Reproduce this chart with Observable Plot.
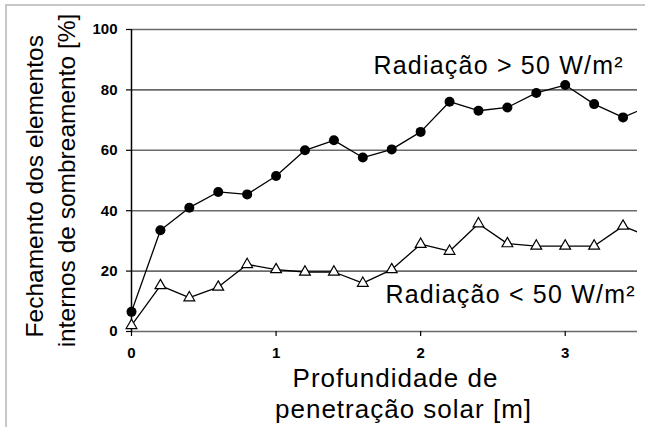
<!DOCTYPE html>
<html>
<head>
<meta charset="utf-8">
<script src="https://cdn.jsdelivr.net/npm/d3@7"></script>
<script src="https://cdn.jsdelivr.net/npm/@observablehq/plot@0.6"></script>
<style>
  html, body { margin: 0; padding: 0; background: #fff; }
  #wrap { position: relative; width: 645px; height: 427px; overflow: hidden; }
  #chart { position: absolute; left: 0; top: 0; }
  #frame { position: absolute; left: 5px; top: 4px; width: 660px; height: 440px;
           border-top: 2px solid #c8c8c8; border-left: 2px solid #c8c8c8; pointer-events: none; }
</style>
</head>
<body>
<div id="wrap"><div id="chart"></div><div id="frame"></div></div>
<script>
// Depth of solar penetration [m]
const depth = [0, 0.2, 0.4, 0.6, 0.8, 1.0, 1.2, 1.4, 1.6, 1.8, 2.0, 2.2, 2.4, 2.6, 2.8, 3.0, 3.2, 3.4, 3.6];
// Closing of internal shading elements [%], radiation > 50 W/m²
const radHigh = [6.5, 33.5, 41, 46.2, 45.4, 51.5, 60, 63.3, 57.6, 60.3, 66.1, 76.1, 73.1, 74.2, 79, 81.6, 75.3, 70.9, 75];
// Closing of internal shading elements [%], radiation < 50 W/m²
const radLow = [2, 15.2, 11.2, 14.7, 22.2, 20.5, 19.7, 19.7, 16, 20.5, 28.9, 26.6, 35.7, 29.1, 28.3, 28.3, 28.3, 34.9, 31];

const xTicks = [0, 1, 2, 3];
const yTicks = [0, 20, 40, 60, 80, 100];
const xDomain = [0, 3.5];
const yDomain = [0, 100];

const labelHigh = "Radiação > 50 W/m²";
const labelLow = "Radiação < 50 W/m²";
const yLabel1 = "Fechamento dos elementos";
const yLabel2 = "internos de sombreamento [%]";
const xLabel1 = "Profundidade de";
const xLabel2 = "penetração solar [m]";

const high = depth.map((x, i) => ({x, y: radHigh[i]}));
const low = depth.map((x, i) => ({x, y: radLow[i]}));
const inDomain = d => d.x <= xDomain[1];

const font = "'Liberation Sans', Arial, sans-serif";

const chart = Plot.plot({
  width: 645,
  height: 427,
  marginLeft: 131,
  marginRight: 8,
  marginTop: 29,
  marginBottom: 96,
  style: {fontFamily: font, background: "transparent", color: "#000"},
  x: {domain: xDomain},
  y: {domain: yDomain},
  marks: [
    Plot.gridY(yTicks, {stroke: "#6a6a6a", strokeOpacity: 1, strokeWidth: 1.6}),
    Plot.ruleX([0], {y1: yDomain[0], y2: yDomain[1], stroke: "#000", strokeWidth: 1.5}),
    Plot.axisY(yTicks, {tickSize: 5, tickPadding: 9, fontSize: 15, fontWeight: "bold", label: null, stroke: "#000", strokeWidth: 1.2}),
    Plot.axisX(xTicks, {tickSize: 5, tickPadding: 11, fontSize: 15, fontWeight: "bold", label: null, stroke: "#000", strokeWidth: 1.2, tickFormat: d => String(d)}),
    Plot.line(high, {x: "x", y: "y", stroke: "#000", strokeWidth: 1.3, clip: "frame"}),
    Plot.line(low, {x: "x", y: "y", stroke: "#000", strokeWidth: 1.3, clip: "frame"}),
    Plot.dot(high, {filter: inDomain, x: "x", y: "y", r: 5, fill: "#000", stroke: "none"}),
    Plot.dot(low, {filter: inDomain, x: "x", y: "y", symbol: "triangle", r: 4, fill: "#fff", stroke: "#000", strokeWidth: 1.2}),
    Plot.text([labelHigh], {x: 1.674, y: 85.2, text: d => d, textAnchor: "start", lineAnchor: "bottom", fontSize: 25, fill: "#000"}),
    Plot.text([labelLow], {x: 1.757, y: 9.3, text: d => d, textAnchor: "start", lineAnchor: "bottom", fontSize: 25, fill: "#000"}),
    Plot.text([yLabel1], {frameAnchor: "left", y: 48.1, text: d => d, rotate: -90, dx: -96, textAnchor: "middle", lineAnchor: "middle", fontSize: 24.5, fill: "#000"}),
    Plot.text([yLabel2], {frameAnchor: "left", y: 50, text: d => d, rotate: -90, dx: -64, textAnchor: "middle", lineAnchor: "middle", fontSize: 24.5, fill: "#000"}),
    Plot.text([xLabel1], {frameAnchor: "bottom", text: d => d, dx: 11, dy: 55, textAnchor: "middle", lineAnchor: "bottom", fontSize: 26, fill: "#000"}),
    Plot.text([xLabel2], {frameAnchor: "bottom", text: d => d, dx: 19, dy: 86, textAnchor: "middle", lineAnchor: "bottom", fontSize: 26, fill: "#000"})
  ]
});

d3.select(chart).selectAll("text").each(function() {
  const t = this.textContent;
  if (t === labelHigh || t === labelLow) this.style.letterSpacing = "1.2px";
  if (t === xLabel1 || t === xLabel2) this.style.letterSpacing = "1px";
});

document.getElementById("chart").appendChild(chart);
</script>
</body>
</html>
